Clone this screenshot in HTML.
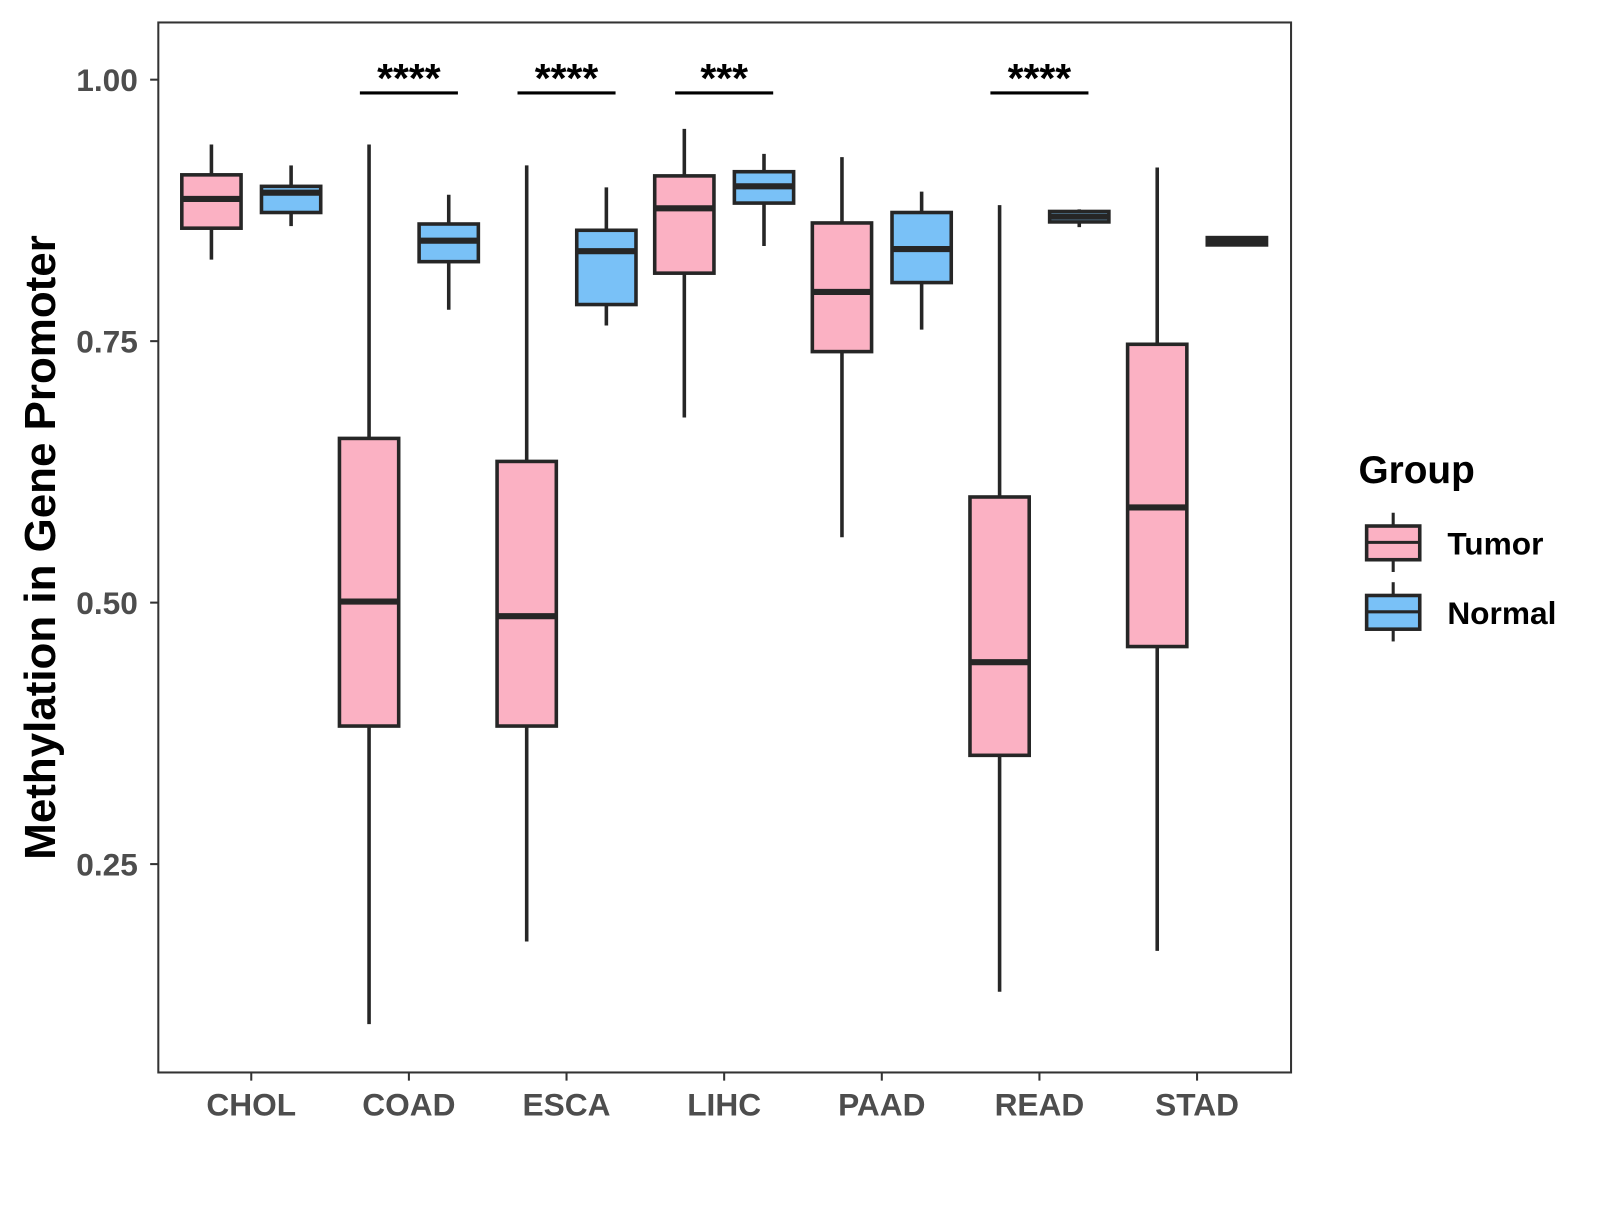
<!DOCTYPE html>
<html><head><meta charset="utf-8"><style>
body{margin:0;background:#fff}
text{font-family:"Liberation Sans",Arial,sans-serif;font-weight:bold}
</style></head><body>
<svg id="chart" width="1600" height="1200" viewBox="0 0 1600 1200" xmlns="http://www.w3.org/2000/svg">
<g id="root" transform="scale(1.0214)">
<rect x="155" y="22" width="1109" height="1028" fill="#fff" stroke="#333" stroke-width="2"/>
<g id="marks"></g>
<text x="0" y="0" transform="translate(54,536) rotate(-90)" text-anchor="middle" font-size="43" fill="#000">Methylation in Gene Promoter</text>
<g>
<text x="1330" y="473" font-size="38" fill="#000">Group</text>
<g>
<line x1="1364" y1="502" x2="1364" y2="560" stroke="#262626" stroke-width="3"/>
<rect x="1338" y="515" width="52" height="33" fill="#FBB1C3" stroke="#262626" stroke-width="3.5"/>
<line x1="1338" y1="531" x2="1390" y2="531" stroke="#262626" stroke-width="3"/>
<text x="1417" y="543" font-size="31" fill="#000">Tumor</text></g>
<g>
<line x1="1364" y1="570" x2="1364" y2="628" stroke="#262626" stroke-width="3"/>
<rect x="1338" y="583" width="52" height="33" fill="#79C1F7" stroke="#262626" stroke-width="3.5"/>
<line x1="1338" y1="599" x2="1390" y2="599" stroke="#262626" stroke-width="3"/>
<text x="1417" y="611" font-size="31" fill="#000">Normal</text></g>
</g>
</g>
</svg>
<script>
const categories=["CHOL","COAD","ESCA","LIHC","PAAD","READ","STAD"];
// [lowWhisker, q1, median, q3, highWhisker]
const tumor=[[0.828,0.858,0.886,0.909,0.938],[0.097,0.382,0.501,0.657,0.938],[0.176,0.382,0.487,0.635,0.918],[0.677,0.815,0.877,0.908,0.953],[0.5625,0.740,0.797,0.863,0.926],[0.128,0.354,0.443,0.601,0.880],[0.167,0.458,0.591,0.747,0.916]];
const normal=[[0.860,0.873,0.892,0.898,0.918],[0.780,0.826,0.846,0.862,0.890],[0.765,0.785,0.836,0.856,0.897],[0.841,0.882,0.898,0.912,0.929],[0.761,0.806,0.838,0.873,0.893],[0.859,0.864,0.869,0.874,0.876],[0.841,0.842,0.845,0.849,0.850]];
const yTicks=[0.25,0.50,0.75,1.00];
const sigLabels=["","****","****","***","","****",""];
const NS="http://www.w3.org/2000/svg";
const y=v=>78+(1-v)*1024;
const x=i=>246+i*154.33;
const svg=document.getElementById('root');
const g=document.getElementById('marks');
function mk(tag,at,parent){const e=document.createElementNS(NS,tag);for(const k in at)e.setAttribute(k,at[k]);(parent||g).appendChild(e);return e;}
yTicks.forEach(t=>{
 const l=mk('line',{x1:147,x2:155,y1:y(t),y2:y(t),stroke:'#333','stroke-width':2},svg);
 
 
 const tx=mk('text',{x:135,y:y(t)+11,'text-anchor':'end','font-size':31,fill:'#4d4d4d'},svg);
 tx.textContent=t.toFixed(2);
 
 
});
categories.forEach((c,i)=>{
 const l=mk('line',{x1:x(i),x2:x(i),y1:1050,y2:1058,stroke:'#333','stroke-width':2},svg);
 
 
 const tx=mk('text',{x:x(i),y:1092,'text-anchor':'middle','font-size':31,fill:'#4d4d4d'},svg);
 tx.textContent=c;
 
 
});
function box(d,cx,fill,name){
 const gg=mk('g',{});
 
 
 mk('line',{x1:cx,x2:cx,y1:y(d[4]),y2:y(d[0]),stroke:'#262626','stroke-width':3.5},gg);
 mk('rect',{x:cx-29,y:y(d[3]),width:58,height:Math.max(1,y(d[1])-y(d[3])),fill:fill,stroke:'#262626','stroke-width':3.5},gg);
 mk('line',{x1:cx-29,x2:cx+29,y1:y(d[2]),y2:y(d[2]),stroke:'#262626','stroke-width':6},gg);
}
categories.forEach((c,i)=>{
 box(tumor[i],x(i)-39,'#FBB1C3','box-tumor-'+c.toLowerCase());
 box(normal[i],x(i)+39,'#79C1F7','box-normal-'+c.toLowerCase());
 if(sigLabels[i]){
  const l=mk('line',{x1:x(i)-48,x2:x(i)+48,y1:91,y2:91,stroke:'#000','stroke-width':3});
  
  
  const t=mk('text',{x:x(i),y:90,'text-anchor':'middle','font-size':40,fill:'#000'});
  t.textContent=sigLabels[i];
  
  
 }
});
</script>
</body></html>
